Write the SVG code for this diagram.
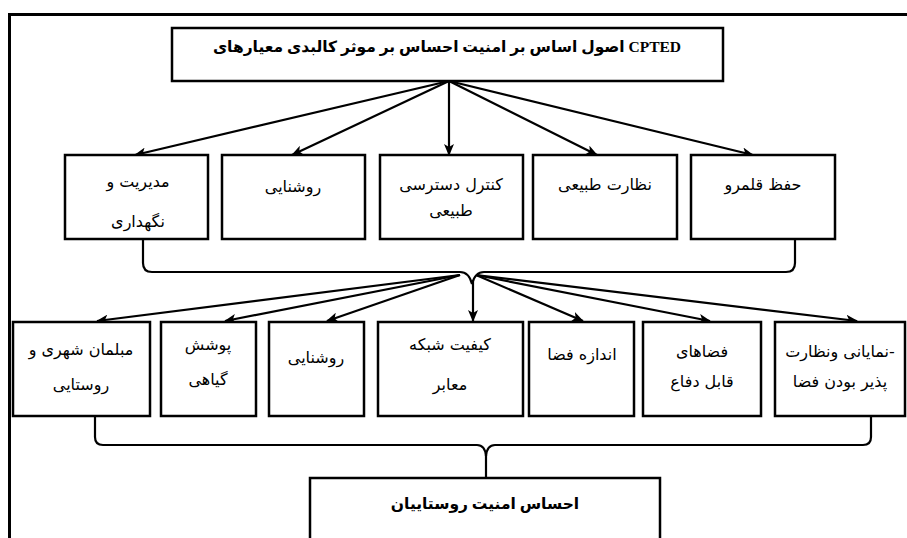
<svg xmlns="http://www.w3.org/2000/svg" width="907" height="538" viewBox="0 0 907 538">
<style>
.box{fill:#fff;stroke:#000;stroke-width:2.5}
.t{font-family:"DejaVu Sans","Noto Sans",sans-serif;font-size:16px;fill:#000;text-anchor:middle}
.b{font-family:"Liberation Serif","DejaVu Sans",serif;font-size:15.5px;font-weight:bold;fill:#000;text-anchor:middle}
.c{fill:none;stroke:#000;stroke-width:2.2}
</style>
<defs>
<marker id="ah" markerWidth="12" markerHeight="10" refX="11" refY="5" orient="auto" markerUnits="userSpaceOnUse">
<path d="M0,0 L12,5 L0,10 L3,5 Z" fill="#000"/>
</marker>
</defs>
<rect width="907" height="538" fill="#fff"/>
<path d="M9.5,538 L9.5,14.5 L907,14.5" fill="none" stroke="#000" stroke-width="3"/>
<g id="connectors">
<line class="c" x1="449" y1="81" x2="135" y2="155" marker-end="url(#ah)"/>
<line class="c" x1="449" y1="81" x2="292" y2="155" marker-end="url(#ah)"/>
<line class="c" x1="449" y1="81" x2="449" y2="155" marker-end="url(#ah)"/>
<line class="c" x1="449" y1="81" x2="597" y2="155" marker-end="url(#ah)"/>
<line class="c" x1="449" y1="81" x2="753" y2="155" marker-end="url(#ah)"/>
<path class="c" d="M143,240 L143,263 Q143,272 152,272 L460,272 Q469,272 472,284 Q475,272 484,272 L786,272 Q795,272 795,263 L795,240"/>
<line class="c" x1="460" y1="275" x2="97" y2="321" marker-end="url(#ah)"/>
<line class="c" x1="460" y1="275" x2="225" y2="321" marker-end="url(#ah)"/>
<line class="c" x1="460" y1="275" x2="327" y2="321" marker-end="url(#ah)"/>
<line class="c" x1="473" y1="280" x2="473" y2="321" marker-end="url(#ah)"/>
<line class="c" x1="476" y1="275" x2="583" y2="321" marker-end="url(#ah)"/>
<line class="c" x1="476" y1="275" x2="710" y2="321" marker-end="url(#ah)"/>
<line class="c" x1="476" y1="275" x2="857" y2="321" marker-end="url(#ah)"/>
<path class="c" d="M95,416 L95,437 Q95,445 103,445 L477,445 Q485,445 486,456 Q487,445 495,445 L863,445 Q871,445 871,437 L871,416"/>
<line class="c" x1="486" y1="455" x2="486" y2="478"/>
</g>
<g id="top">
<rect class="box" x="172" y="28" width="551" height="53"/>
<text class="b" x="447" y="52">معیارهای&#x200E; کالبدی&#x200E; موثر&#x200E; بر&#x200E; احساس&#x200E; امنیت&#x200E; بر&#x200E; اساس&#x200E; اصول&#x200E; CPTED</text>
</g>
<g id="n1">
<rect class="box" x="65" y="155" width="143" height="84"/>
<text class="t" x="138" y="187">مدیریت و</text>
<text class="t" x="138" y="227">نگهداری</text>
</g>
<g id="n2">
<rect class="box" x="222" y="155" width="143" height="84"/>
<text class="t" x="293" y="192">روشنایی</text>
</g>
<g id="n3">
<rect class="box" x="380" y="155" width="143" height="84"/>
<text class="t" x="451" y="190">کنترل دسترسی</text>
<text class="t" x="451" y="216">طبیعی</text>
</g>
<g id="n4">
<rect class="box" x="533" y="155" width="144" height="84"/>
<text class="t" x="605" y="190">نظارت طبیعی</text>
</g>
<g id="n5">
<rect class="box" x="691" y="155" width="144" height="84"/>
<text class="t" x="763" y="190">حفظ قلمرو</text>
</g>
<g id="m1">
<rect class="box" x="13" y="322" width="137" height="94"/>
<text class="t" x="81" y="355">مبلمان شهری و</text>
<text class="t" x="81" y="390">روستایی</text>
</g>
<g id="m2">
<rect class="box" x="161" y="322" width="95" height="94"/>
<text class="t" x="208" y="350">پوشش</text>
<text class="t" x="208" y="385">گیاهی</text>
</g>
<g id="m3">
<rect class="box" x="269" y="322" width="95" height="94"/>
<text class="t" x="316" y="363">روشنایی</text>
</g>
<g id="m4">
<rect class="box" x="378" y="322" width="145" height="94"/>
<text class="t" x="450" y="350">کیفیت شبکه</text>
<text class="t" x="450" y="390">معابر</text>
</g>
<g id="m5">
<rect class="box" x="529" y="322" width="105" height="94"/>
<text class="t" x="582" y="360">اندازه فضا</text>
</g>
<g id="m6">
<rect class="box" x="643" y="322" width="118" height="94"/>
<text class="t" x="702" y="357">فضاهای</text>
<text class="t" x="702" y="387">قابل دفاع</text>
</g>
<g id="m7">
<rect class="box" x="775" y="322" width="130" height="94"/>
<text class="t" x="840" y="357">نمایانی ونظارت-</text>
<text class="t" x="840" y="387">پذیر بودن فضا</text>
</g>
<g id="bottom">
<rect class="box" x="310" y="478" width="350" height="70"/>
<text class="b" x="485" y="509">احساس امنیت روستاییان</text>
</g>
</svg>
